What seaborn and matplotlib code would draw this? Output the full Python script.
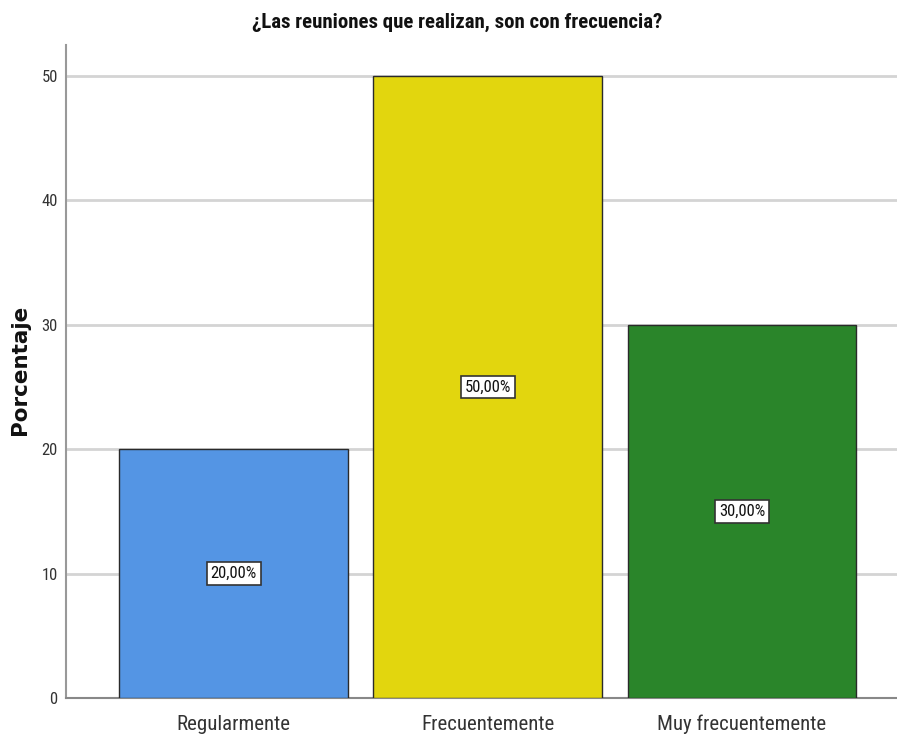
import pandas as pd
import seaborn as sns
import matplotlib.pyplot as plt
from matplotlib import font_manager

# Data
categorias = ["Regularmente", "Frecuentemente", "Muy frecuentemente"]
porcentajes = [20.0, 50.0, 30.0]
colores = ["#5495E4", "#E2D60E", "#2A852A"]
y_ticks = [0, 10, 20, 30, 40, 50]

df = pd.DataFrame({"Categoria": categorias, "Porcentaje": porcentajes})

# pick a narrow face, the original uses an Arial Narrow look
nombres = {f.name for f in font_manager.fontManager.ttflist}
preferidas = ["Liberation Sans Narrow", "Arimo Narrow", "Roboto Condensed", "PT Sans Narrow"]
narrow = [n for n in preferidas if n in nombres][:1]

sns.set_theme(style="white")
plt.rcParams["font.family"] = narrow + ["DejaVu Sans"]

fig = plt.figure(figsize=(8.97, 7.38), dpi=100)
ax = fig.add_axes([66 / 897, 1 - 698 / 738, 1 - 66 / 897, (698 - 45) / 738])

sns.barplot(
    data=df, x="Categoria", y="Porcentaje", hue="Categoria",
    palette=colores, width=0.9, edgecolor="#2a2a2a", linewidth=1.0,
    saturation=1, legend=False, ax=ax, zorder=3,
)

# value labels in small boxes at the middle of each bar
for i, v in enumerate(porcentajes):
    ax.text(
        i, v / 2, f"{v:.2f}%".replace(".", ","), ha="center", va="center",
        fontsize=12, color="#111111", zorder=5,
        bbox=dict(boxstyle="square,pad=0.22", fc="white", ec="#333333", lw=1.2),
    )

ax.set_xlim(-0.66, 2.61)
ax.set_ylim(0, 52.5)
ax.set_yticks(y_ticks)
ax.set_yticklabels([str(t) for t in y_ticks], fontsize=12, color="#333333")
ax.tick_params(axis="x", labelsize=15, colors="#333333", length=0, pad=12)
ax.tick_params(axis="y", length=0, pad=6)
ax.yaxis.grid(True, color="#d4d4d4", linewidth=2, zorder=0)
ax.xaxis.grid(False)

for s in ["top", "right"]:
    ax.spines[s].set_visible(False)
ax.spines["left"].set_color("#999999")
ax.spines["bottom"].set_color("#888888")
ax.spines["left"].set_linewidth(1.5)
ax.spines["bottom"].set_linewidth(1.5)

ax.set_xlabel("")
ax.set_ylabel("Porcentaje", fontsize=15.5, fontweight="bold", family=["DejaVu Sans"],
              color="#111111")
ax.yaxis.set_label_coords(-0.043, 0.502)
fig.text(457 / 897, 1 - 22 / 738, "¿Las reuniones que realizan, son con frecuencia?",
         ha="center", va="center", fontsize=15, fontweight="bold", color="#111111")

fig.savefig("out.png", dpi=100)
